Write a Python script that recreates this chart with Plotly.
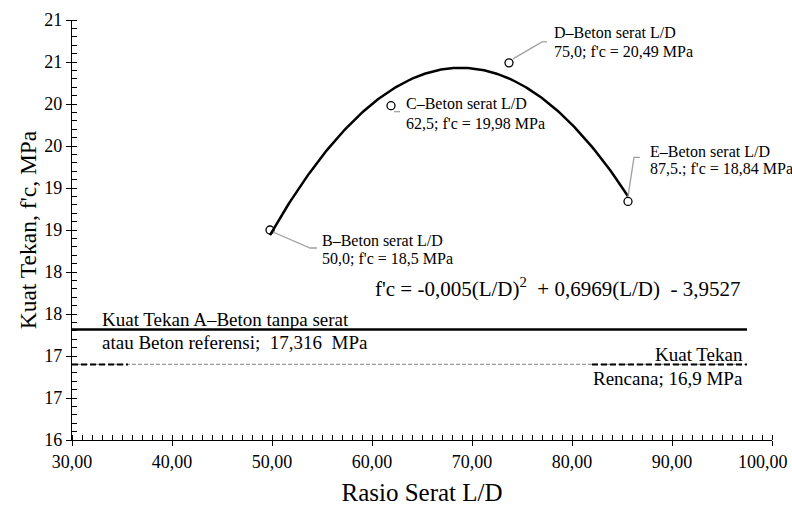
import numpy as np
import plotly.graph_objects as go

# ---- data (marker positions) ----
ld_ratio = [49.8, 61.9, 73.7, 85.6]
fc_values = [18.5, 19.98, 20.49, 18.84]
label_line1 = ["B–Beton serat L/D", "C–Beton serat L/D", "D–Beton serat L/D", "E–Beton serat L/D"]
label_line2 = ["50,0; f'c = 18,5 MPa", "62,5; f'c = 19,98 MPa",
               "75,0; f'c = 20,49 MPa", "87,5.; f'c = 18,84 MPa"]
fc_reference = 17.316
fc_design = 16.9
y_tickvals = [16.0, 16.5, 17.0, 17.5, 18.0, 18.5, 19.0, 19.5, 20.0, 20.5, 21.0]
y_ticktext = ["16", "17", "17", "18", "18", "19", "19", "20", "20", "21", "21"]
x_tickvals = [30, 40, 50, 60, 70, 80, 90, 100]
x_ticktext = ["30,00", "40,00", "50,00", "60,00", "70,00", "80,00", "90,00", "100,00"]

FONT = "Liberation Serif"

# quadratic trendline through the points
coef = np.polyfit(ld_ratio, fc_values, 2)
xs = np.linspace(min(ld_ratio), max(ld_ratio), 200)
ys = np.polyval(coef, xs)

fig = go.Figure()
fig.add_trace(go.Scatter(x=xs, y=ys, mode="lines",
                         line=dict(color="black", width=2.5), hoverinfo="skip"))
fig.add_trace(go.Scatter(x=ld_ratio, y=fc_values, mode="markers",
                         marker=dict(symbol="circle-open", size=8, color="black",
                                     line=dict(width=1.3, color="black"))))

# horizontal reference lines
LINE_END = 97.5
fig.add_shape(type="line", xref="x", yref="y", x0=30, x1=LINE_END,
              y0=fc_reference, y1=fc_reference, line=dict(color="black", width=2.5))
fig.add_shape(type="line", xref="x", yref="y", x0=30, x1=LINE_END,
              y0=fc_design, y1=fc_design, line=dict(color="#9a9a9a", width=1.2, dash="4px,2px"))
for a, b in [(30, 35.6), (82, LINE_END)]:
    fig.add_shape(type="line", xref="x", yref="y", x0=a, x1=b,
                  y0=fc_design, y1=fc_design, line=dict(color="black", width=2, dash="6px,3px"))

# point labels + leaders
xshifts = [50, 13, 43, 20]
yshift1 = [-10, 2, 30, 50]
yshift2 = [-28, -18, 11, 33]
leaders = ["M 3,-2 L 40,-18 L 47,-18", "M 3,-6 L 9,-6",
           "M 4,4 L 33,21 L 38,21", "M 0,5 L 6,44 L 12,44"]
for i in range(len(ld_ratio)):
    x, y = ld_ratio[i], fc_values[i]
    for txt, dy in [(label_line1[i], yshift1[i]), (label_line2[i], yshift2[i])]:
        fig.add_annotation(x=x, y=y, xref="x", yref="y", text=txt, showarrow=False,
                           xanchor="left", yanchor="middle", align="left",
                           xshift=xshifts[i], yshift=dy,
                           font=dict(family=FONT, size=16, color="black"))
    fig.add_shape(type="path", xref="x", yref="y", xsizemode="pixel", ysizemode="pixel",
                  xanchor=x, yanchor=y, path=leaders[i], line=dict(color="#a0a0a0", width=1.3))

# line labels
fig.add_annotation(x=32.8, y=fc_reference, xref="x", yref="y",
                   text="Kuat Tekan A–Beton tanpa serat", showarrow=False,
                   xanchor="left", yanchor="middle", yshift=10,
                   font=dict(family=FONT, size=19, color="black"))
fig.add_annotation(x=32.8, y=fc_reference, xref="x", yref="y",
                   text="atau Beton referensi;  17,316  MPa", showarrow=False,
                   xanchor="left", yanchor="middle", yshift=-13,
                   font=dict(family=FONT, size=19, color="black"))
fig.add_annotation(x=LINE_END, y=fc_design, xref="x", yref="y",
                   text="Kuat Tekan", showarrow=False,
                   xanchor="right", yanchor="middle", yshift=10, xshift=-2,
                   font=dict(family=FONT, size=19, color="black"))
fig.add_annotation(x=LINE_END, y=fc_design, xref="x", yref="y",
                   text="Rencana; 16,9 MPa", showarrow=False,
                   xanchor="right", yanchor="middle", yshift=-14, xshift=-2,
                   font=dict(family=FONT, size=19, color="black"))
fig.add_annotation(x=60.1, y=17.81, xref="x", yref="y",
                   text="f'c = -0,005(L/D)<sup>2</sup>  + 0,6969(L/D)  - 3,9527",
                   showarrow=False, xanchor="left", yanchor="middle",
                   font=dict(family=FONT, size=21, color="black"))

# last x tick label kept inside the page (right-aligned at the edge as in the reference)
shown_ticktext = x_ticktext[:-1] + [""]
fig.add_annotation(x=x_tickvals[-1], y=0, xref="x", yref="paper", text=x_ticktext[-1],
                   showarrow=False, xanchor="right", yanchor="middle", xshift=18, yshift=-22,
                   font=dict(family=FONT, size=18, color="black"))

axis_common = dict(showgrid=False, zeroline=False, showline=True, linecolor="black",
                   linewidth=1.3, tickcolor="black", tickwidth=1.3, automargin=False,
                   ticklabeloverflow="allow",
                   tickfont=dict(family=FONT, size=18, color="black"))

fig.update_layout(
    width=792, height=509, margin=dict(l=72, r=20, t=20, b=69),
    paper_bgcolor="white", plot_bgcolor="white", showlegend=False,
    font=dict(family=FONT, color="black"),
    xaxis=dict(range=[30, 100], tickvals=x_tickvals, ticktext=shown_ticktext,
               ticks="outside", ticklen=5,
               minor=dict(dtick=1, ticks="inside", ticklen=5, tickcolor="black", tickwidth=1),
               title=dict(text="Rasio Serat L/D", font=dict(family=FONT, size=25, color="black"),
                          standoff=12),
               **axis_common),
    yaxis=dict(range=[16, 21], tickvals=y_tickvals, ticktext=y_ticktext,
               ticks="outside", ticklen=5,
               minor=dict(dtick=0.1, ticks="inside", ticklen=5, tickcolor="black", tickwidth=1),
               title=dict(text="Kuat Tekan, f'c, MPa", font=dict(family=FONT, size=23.5, color="black"),
                          standoff=1),
               **axis_common),
    xaxis2=dict(range=[30, 100], overlaying="x", tickvals=x_tickvals, showticklabels=False,
                ticks="inside", ticklen=5, tickcolor="black", tickwidth=1.3, automargin=False,
                showgrid=False, zeroline=False, showline=False),
    yaxis2=dict(range=[16, 21], overlaying="y", tickvals=y_tickvals, showticklabels=False,
                ticks="inside", ticklen=5, tickcolor="black", tickwidth=1.3, automargin=False,
                showgrid=False, zeroline=False, showline=False),
)
fig.add_trace(go.Scatter(x=[None], y=[None], xaxis="x2", yaxis="y2", hoverinfo="skip"))

fig.write_html("out.html", config={"displayModeBar": False},
               post_script="document.body.style.margin='0';")
